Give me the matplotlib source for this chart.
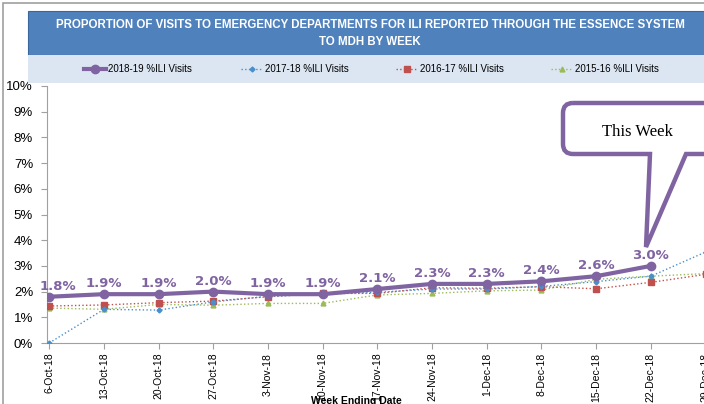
import matplotlib
matplotlib.use("Agg")
import matplotlib.pyplot as plt
from matplotlib.path import Path
from matplotlib.patches import PathPatch, Rectangle
from matplotlib.ticker import FuncFormatter

weeks = ["6-Oct-18", "13-Oct-18", "20-Oct-18", "27-Oct-18", "3-Nov-18", "10-Nov-18",
         "17-Nov-18", "24-Nov-18", "1-Dec-18", "8-Dec-18", "15-Dec-18", "22-Dec-18", "29-Dec-18"]
ili_2018_19 = [1.8, 1.9, 1.9, 2.0, 1.9, 1.9, 2.1, 2.3, 2.3, 2.4, 2.6, 3.0]
ili_2017_18 = [0.0, 1.31, 1.28, 1.6, 1.82, 1.9, 1.97, 2.1, 2.1, 2.2, 2.39, 2.6, 3.54]
ili_2016_17 = [1.44, 1.48, 1.57, 1.63, 1.8, 1.93, 1.93, 2.15, 2.13, 2.19, 2.11, 2.36, 2.67]
ili_2015_16 = [1.36, 1.31, 1.5, 1.47, 1.54, 1.54, 1.87, 1.93, 2.03, 2.06, 2.48, 2.6, 2.7]
series_names = ["2018-19 %ILI Visits", "2017-18 %ILI Visits", "2016-17 %ILI Visits", "2015-16 %ILI Visits"]

W, H = 704, 404
SANS = "Liberation Sans"

def fx(x):
    return x / W

def fy(y):
    return 1 - y / H

fig = plt.figure(figsize=(W / 100, H / 100), dpi=100)
fig.patch.set_facecolor("white")
renderer = fig.canvas.get_renderer()

def fit_width(t, target_px):
    w = t.get_window_extent(renderer=renderer).width
    t.set_fontsize(t.get_fontsize() * target_px / w)

# outer border (chart area)
fig.add_artist(Rectangle((fx(3), fy(420)), fx(720), fy(3) - fy(420), transform=fig.transFigure,
                         facecolor="none", edgecolor="#a0a0a0", lw=1.2, clip_on=False))
# title box
fig.add_artist(Rectangle((fx(28), fy(55)), fx(700), fy(11) - fy(55), transform=fig.transFigure,
                         facecolor="#4F81BD", edgecolor="#3A6699", lw=0.8))
t1 = fig.text(fx(370), fy(25), "PROPORTION OF VISITS TO EMERGENCY DEPARTMENTS FOR ILI REPORTED THROUGH THE ESSENCE SYSTEM",
              color="white", fontsize=9, fontweight="bold", family=SANS, ha="center", va="center")
fit_width(t1, 632)
fig.text(fx(370), fy(42), "TO MDH BY WEEK",
         color="white", fontsize=t1.get_fontsize(), fontweight="bold", family=SANS, ha="center", va="center")
# legend band
fig.add_artist(Rectangle((fx(28), fy(83)), fx(700), fy(55) - fy(83), transform=fig.transFigure,
                         facecolor="#DCE6F2", edgecolor="none"))

axw = 12.34 * 54.7
ax = fig.add_axes([fx(47), fy(343), axw / W, (343 - 86) / H])
x = list(range(len(weeks)))

purple = "#8064A2"
l4, = ax.plot(x, ili_2015_16, color="#9BBB59", lw=1, ls=":", marker="^", ms=3.5, zorder=2)
l3, = ax.plot(x, ili_2016_17, color="#C0504D", lw=1, ls=":", marker="s", ms=4, zorder=3)
l2, = ax.plot(x, ili_2017_18, color="#4A8FCC", lw=1, ls=":", marker="D", ms=2.5, zorder=4)
l1, = ax.plot(x[:len(ili_2018_19)], ili_2018_19, color=purple, lw=3, marker="o", ms=6, zorder=5)

for i, v in enumerate(ili_2018_19):
    dx = 9 if i == 0 else 0
    ax.annotate(f"{v:.1f}%", (i, v), xytext=(dx, 4), textcoords="offset pixels",
                ha="center", va="bottom", color=purple, fontsize=9.5, fontweight="bold", zorder=6)

ax.set_xlim(-0.04, 12.3)
ax.set_ylim(0, 10)
ax.set_yticks(range(0, 11))
ax.yaxis.set_major_formatter(FuncFormatter(lambda v, p: f"{int(v)}%"))
ax.set_xticks(x)
ax.set_xticklabels(weeks, rotation=90, fontsize=7.5, family=SANS)
ax.tick_params(axis="y", labelsize=9.5, length=4, pad=6, color="#a0a0a0")
for lab in ax.get_yticklabels():
    lab.set_family(SANS)
ax.tick_params(axis="x", length=4, color="#a0a0a0", pad=3)
for s in ["top", "right"]:
    ax.spines[s].set_visible(False)
for s in ["left", "bottom"]:
    ax.spines[s].set_color("#a0a0a0")
ax.set_xlabel("Week Ending Date", fontsize=7.5, fontweight="bold", family=SANS)
ax.xaxis.set_label_coords((356 - 47) / axw, -0.205)

# legends
legend_x = [84, 241, 396, 551]
for h, name, lx in zip([l1, l2, l3, l4], series_names, legend_x):
    fig.legend([h], [name], loc="center left", bbox_to_anchor=(fx(lx), fy(69)),
               frameon=False, handlelength=2.3, handletextpad=0.15,
               borderpad=0, borderaxespad=0, prop={"family": SANS, "size": 7})

# callout
pts = [(573, 103), (725, 103), (725, 154), (686, 154), (646, 247), (650, 154),
       (573, 154), (563, 154), (563, 144), (563, 113), (563, 103), (573, 103)]
codes = [Path.MOVETO, Path.LINETO, Path.LINETO, Path.LINETO, Path.LINETO, Path.LINETO,
         Path.LINETO, Path.CURVE3, Path.CURVE3, Path.LINETO, Path.CURVE3, Path.CURVE3]
path = Path([(fx(a), fy(b)) for a, b in pts], codes)
fig.add_artist(PathPatch(path, transform=fig.transFigure, facecolor="white",
                         edgecolor=purple, lw=3.2, zorder=10, clip_on=False))
fig.text(fx(637), fy(132), "This Week", family="Liberation Serif", fontsize=12,
         ha="center", va="center", zorder=11)

fig.savefig("out.png", dpi=100)
